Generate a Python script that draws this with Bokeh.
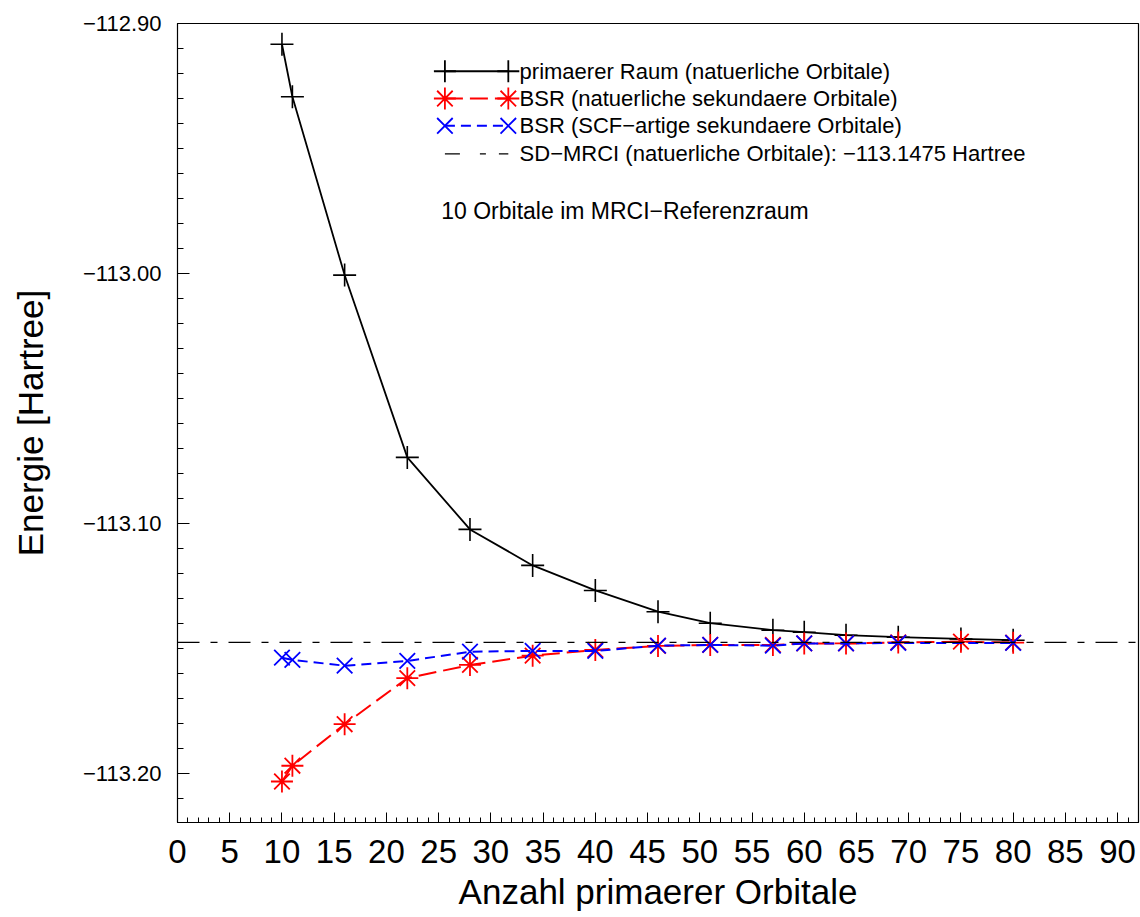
from bokeh.plotting import figure
from bokeh.models import FixedTicker, CustomJSTickFormatter, Span, Label, Range1d
from bokeh.embed import file_html
from bokeh.resources import INLINE

# Number of primary orbitals and total energies (Hartree)
n_primary = [10, 11, 16, 22, 28, 34, 40, 46, 51, 57, 60, 64, 69, 75, 80]
e_primary = [-112.9083, -112.9293, -113.0006, -113.0735, -113.1023, -113.1167,
             -113.1267, -113.1352, -113.1398, -113.1426, -113.1434, -113.1446,
             -113.1454, -113.1461, -113.1466]

n_bsr_nat = [10, 11, 16, 22, 28, 34, 40, 46, 51, 57, 60, 64, 69, 75, 80]
e_bsr_nat = [-113.2031, -113.1968, -113.1802, -113.1618, -113.1565, -113.1528,
             -113.1505, -113.1489, -113.1485, -113.1485, -113.1479, -113.1479,
             -113.1475, -113.1472, -113.1476]

n_bsr_scf = [10, 11, 16, 22, 28, 34, 40, 46, 51, 57, 60, 64, 69, 80]
e_bsr_scf = [-113.1536, -113.1545, -113.1568, -113.1549, -113.1512, -113.1509,
             -113.1509, -113.1488, -113.1485, -113.1488, -113.1479, -113.1479,
             -113.1477, -113.1477]

e_sd_mrci = -113.1475

legend_labels = [
    "primaerer Raum (natuerliche Orbitale)",
    "BSR (natuerliche sekundaere Orbitale)",
    "BSR (SCF\u2212artige sekundaere Orbitale)",
    "SD\u2212MRCI (natuerliche Orbitale): \u2212113.1475 Hartree",
]
note_text = "10 Orbitale im MRCI\u2212Referenzraum"

x_major = list(range(0, 91, 5))
y_major = [-112.90, -113.00, -113.10, -113.20]

FONT = "Liberation Sans"

p = figure(width=1140, height=917, output_backend="svg", toolbar_location=None,
           x_range=Range1d(0, 92), y_range=Range1d(-113.2195, -112.90),
           min_border_left=177, min_border_right=2, min_border_top=23,
           min_border_bottom=95)
p.grid.visible = False
p.outline_line_color = "black"
p.outline_line_width = 1.2
p.background_fill_color = "white"
p.border_fill_color = "white"

# axes
p.xaxis.ticker = FixedTicker(ticks=x_major, minor_ticks=list(range(0, 93)))
p.yaxis.ticker = FixedTicker(ticks=y_major,
                             minor_ticks=[round(-112.90 - 0.01 * i, 2) for i in range(0, 33)])
p.yaxis.formatter = CustomJSTickFormatter(
    code="return tick.toFixed(2).replace('-', '\u2212');")
for ax in (p.xaxis, p.yaxis):
    ax.axis_line_color = "black"
    ax.major_tick_line_color = "black"
    ax.minor_tick_line_color = "black"
    ax.major_tick_out = 0
    ax.minor_tick_out = 0
    ax.axis_label_text_font = FONT
    ax.axis_label_text_font_style = "normal"
    ax.axis_label_text_font_size = "35px"
    ax.axis_label_text_color = "black"
    ax.major_label_text_color = "black"

p.xaxis.major_tick_in = 10
p.xaxis.minor_tick_in = 5
p.yaxis.major_tick_in = 12
p.yaxis.minor_tick_in = 6

p.xaxis.axis_label = "Anzahl primaerer Orbitale"
p.xaxis.major_label_text_font = FONT
p.xaxis.major_label_text_font_size = "33px"
p.xaxis.major_label_standoff = 17
p.xaxis.axis_label_standoff = 6

p.yaxis.axis_label = "Energie [Hartree]"
p.yaxis.major_label_text_font = FONT
p.yaxis.major_label_text_font_size = "22px"
p.yaxis.major_label_standoff = 16
p.yaxis.axis_label_standoff = 30

# reference energy of the full SD-MRCI
p.add_layout(Span(location=e_sd_mrci, dimension="width", line_color="black",
                  line_width=1.3, line_dash="22 11 7 11"))

MS = 22
p.line(n_primary, e_primary, line_color="black", line_width=1.8)
p.scatter(n_primary, e_primary, marker="cross", size=MS + 1, line_color="black", line_width=1.6)

p.line(n_bsr_nat, e_bsr_nat, line_color="red", line_width=2, line_dash="18 7")
p.scatter(n_bsr_nat, e_bsr_nat, marker="asterisk", size=MS, line_color="red", line_width=1.8)

p.line(n_bsr_scf, e_bsr_scf, line_color="blue", line_width=2, line_dash="10 6")
p.scatter(n_bsr_scf, e_bsr_scf, marker="x", size=MS, line_color="blue", line_width=1.8)

# legend drawn inside the frame, sample line with markers at both ends
leg_x0, leg_x1, leg_tx = 25.6, 31.67, 32.75
leg_y = [-112.9191, -112.9300, -112.9409, -112.9521]
styles = [
    dict(color="black", dash="solid", marker="cross", lw=1.8),
    dict(color="red", dash="18 7", marker="asterisk", lw=2),
    dict(color="blue", dash="10 6", marker="x", lw=2),
    dict(color="black", dash="15 20 6 13", marker=None, lw=1.3),
]
for yy, st, lab in zip(leg_y, styles, legend_labels):
    p.line([leg_x0, leg_x1], [yy, yy], line_color=st["color"], line_width=st["lw"],
           line_dash=st["dash"])
    if st["marker"]:
        p.scatter([leg_x0, leg_x1], [yy, yy], marker=st["marker"], size=MS,
                  line_color=st["color"], line_width=1.8)
    p.add_layout(Label(x=leg_tx, y=yy, text=lab, text_font=FONT, text_font_size="22px",
                       text_baseline="middle", text_align="left", text_color="black"))

p.add_layout(Label(x=25.25, y=-112.9750, text=note_text, text_font=FONT,
                   text_font_size="23px", text_baseline="middle", text_align="left",
                   text_color="black"))

open("out.html", "w").write(file_html(p, INLINE))
